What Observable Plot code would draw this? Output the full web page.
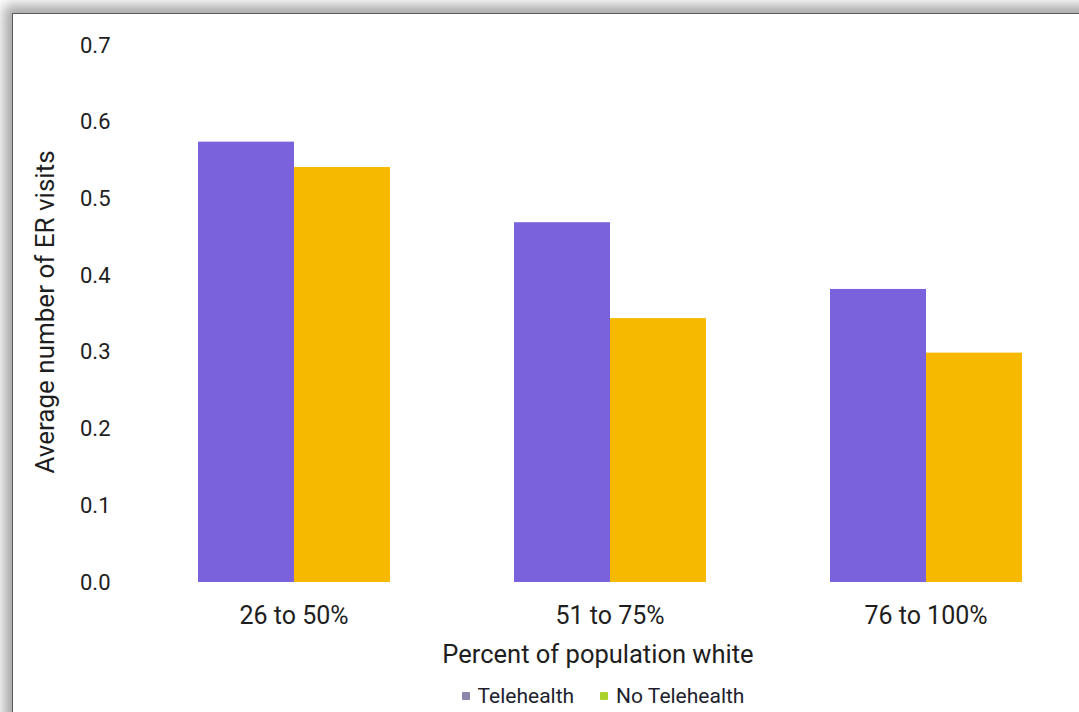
<!DOCTYPE html>
<html>
<head>
<meta charset="utf-8">
<script src="https://cdn.jsdelivr.net/npm/d3@7"></script>
<script src="https://cdn.jsdelivr.net/npm/@observablehq/plot@0.6"></script>
<style>
  html, body { margin: 0; padding: 0; background: #fff; overflow: hidden; }
  body { width: 1079px; height: 712px; position: relative; font-family: Roboto, "Noto Sans", sans-serif; }
  #frame {
    position: absolute; left: 12px; top: 13px; width: 1120px; height: 760px;
    border-top: 1px solid #5a5a5a; border-left: 1px solid #5a5a5a;
    box-shadow: -5px -5px 12px 3px rgba(0,0,0,0.35);
    background: #fff;
  }
  #chart { position: absolute; left: 0; top: 0; }
  #ytitle {
    position: absolute; left: 45px; top: 312px; white-space: nowrap;
    transform: translate(-50%, -50%) rotate(-90deg);
    font-size: 26px; color: #1e1e1e;
  }
  #xtitle {
    position: absolute; top: 639px; left: 0; width: 1196px; text-align: center;
    font-size: 25.5px; color: #1e1e1e;
  }
  #legend {
    position: absolute; top: 684px; left: 0; width: 1206px; text-align: center;
    font-size: 21px; color: #1e1e2e;
  }
  #legend span.item { margin: 0 13px; }
  #legend span.sw { display: inline-block; width: 8px; height: 8px; margin-right: 8px; vertical-align: 3px; border-radius: 1px; }
</style>
</head>
<body>
<div id="frame"></div>
<div id="chart"></div>
<div id="ytitle">Average number of ER visits</div>
<div id="xtitle">Percent of population white</div>
<div id="legend"></div>
<script>
// Average ER visits by share of white population, with and without telehealth
const groups = ["26 to 50%", "51 to 75%", "76 to 100%"];
const series = ["Telehealth", "No Telehealth"];
const telehealth = [0.574, 0.469, 0.382];
const noTelehealth = [0.541, 0.344, 0.299];
const barColors = ["#7a62dc", "#f7b900"];
const legendSwatches = ["#8d86ac", "#a9d22c"];
const yTicks = [0, 0.1, 0.2, 0.3, 0.4, 0.5, 0.6, 0.7];

const data = groups.flatMap((g, i) => [
  {group: g, series: series[0], value: telehealth[i]},
  {group: g, series: series[1], value: noTelehealth[i]}
]);

const chart = Plot.plot({
  width: 1079,
  height: 640,
  marginTop: 45,
  marginBottom: 58,
  marginLeft: 128,
  marginRight: -12,
  style: {background: "transparent", fontFamily: "Roboto, sans-serif", fontSize: "22px", color: "#1e1e1e"},
  fx: {domain: groups, paddingInner: 0.389, paddingOuter: 0.218, label: null, tickSize: 0, tickPadding: 24},
  x: {domain: series, padding: 0, axis: null},
  y: {domain: [0, 0.7], ticks: yTicks, tickFormat: d3.format(".1f"), tickSize: 0, tickPadding: 87,
      label: null, grid: false},
  color: {domain: series, range: barColors},
  marks: [
    Plot.barY(data, {fx: "group", x: "series", y: "value", fill: "series"})
  ]
});
document.getElementById("chart").appendChild(chart);

// Category labels under the groups are a little larger than the value labels
chart.querySelectorAll("[aria-label='fx-axis'] text, [aria-label='fx-axis tick label'] text").forEach(t => {
  t.style.fontSize = "25px";
});

const legend = document.getElementById("legend");
series.forEach((s, i) => {
  const item = document.createElement("span");
  item.className = "item";
  const sw = document.createElement("span");
  sw.className = "sw";
  sw.style.background = legendSwatches[i];
  item.appendChild(sw);
  item.appendChild(document.createTextNode(s));
  legend.appendChild(item);
});
</script>
</body>
</html>
